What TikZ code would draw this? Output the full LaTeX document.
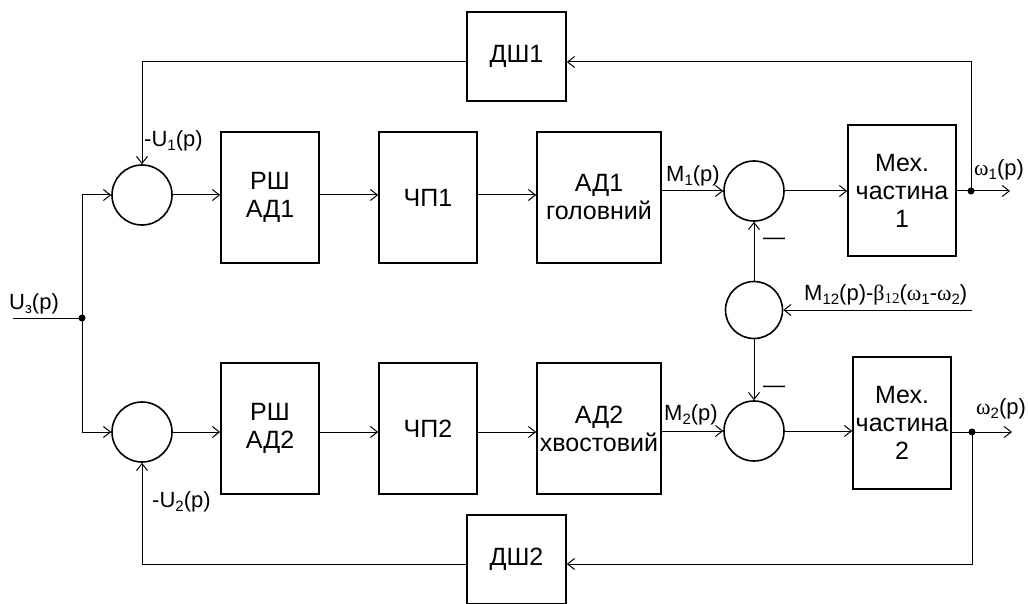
\documentclass[tikz,border=0pt]{standalone}
\usepackage{fontspec}
\setmainfont{Liberation Sans}
\newfontfamily\serf{Liberation Serif}
\usetikzlibrary{arrows.meta}
\newcommand{\lsub}[1]{\raisebox{-0.3ex}{\fontsize{15pt}{15pt}\selectfont #1}}
\begin{document}
\begin{tikzpicture}[x=1pt,y=-1pt,
  blk/.style={draw, line width=1.6pt, minimum width=98pt, minimum height=131pt, inner sep=0pt, align=center, font=\fontsize{25pt}{28pt}\selectfont},
  sum/.style={draw, circle, line width=1.6pt, minimum size=60pt, inner sep=0pt},
  con/.style={line width=1pt},
  arr/.style={con, -{Straight Barb[length=7pt,width=11pt,line width=1pt]}},
  lbl/.style={font=\fontsize{22pt}{24pt}\selectfont, inner sep=0pt},
  jdot/.style={circle, fill, minimum size=7pt, inner sep=0pt}
]
\useasboundingbox (0,0) rectangle (1028,604);
% feedback blocks
\node[blk, minimum width=99pt, minimum height=89pt] (ds1) at (516.5,56.5) {ДШ1};
\node[blk, minimum width=99pt, minimum height=89pt] (ds2) at (516.5,559.5) {ДШ2};
% summing junctions
\node[sum] (s1) at (142,195) {};
\node[sum] (s2) at (142,432) {};
\node[sum] (s3) at (754,191) {};
\node[sum, minimum size=57pt] (sm) at (754,310) {};
\node[sum] (s4) at (754,431) {};
% forward blocks
\node[blk] (rs1) at (270,197.5) {РШ\\АД1};
\node[blk] (cp1) at (428,197.5) {ЧП1};
\node[blk, minimum width=124pt] (ad1) at (599,197.5) {АД1\\головний};
\node[blk] (rs2) at (270,428.5) {РШ\\АД2};
\node[blk] (cp2) at (428,428.5) {ЧП2};
\node[blk, minimum width=124pt] (ad2) at (599,428.5) {АД2\\хвостовий};
\node[blk, minimum width=108pt] (me1) at (902,190.5) {Мех.\\частина\\1};
\node[blk, minimum width=98pt, minimum height=132pt] (me2) at (902,423) {Мех.\\частина\\2};
% junction points
\node[jdot] (d1) at (971,191) {};
\node[jdot] (d2) at (972,432) {};
\node[jdot] (jn) at (82,318) {};
\coordinate (o1) at (1010,191);
\coordinate (o2) at (1012,432);
\coordinate (uin) at (13,318);
\coordinate (min) at (972,310);
\coordinate (ytop) at (0,62);
\coordinate (ybot) at (0,564);
% top channel
\draw[arr] (s1.east) -- (rs1.west |- s1);
\draw[arr] (rs1.east |- s1) -- (cp1.west |- s1);
\draw[arr] (cp1.east |- s1) -- (ad1.west |- s1);
\draw[arr] (ad1.east |- s3) -- (s3.west);
\draw[arr] (s3.east) -- (me1.west |- s3);
\draw[con] (me1.east |- s3) -- (d1.center);
\draw[arr] (d1.center) -- (o1);
\draw[arr] (d1.center) -- (d1 |- ytop) -- (ds1.east |- ytop);
\draw[arr] (ds1.west |- ytop) -- (s1 |- ytop) -- (s1.north);
% bottom channel
\draw[arr] (s2.east) -- (rs2.west |- s2);
\draw[arr] (rs2.east |- s2) -- (cp2.west |- s2);
\draw[arr] (cp2.east |- s2) -- (ad2.west |- s2);
\draw[arr] (ad2.east |- s4) -- (s4.west);
\draw[arr] (s4.east) -- (me2.west |- s4);
\draw[con] (me2.east |- d2) -- (d2.center);
\draw[arr] (d2.center) -- (o2);
\draw[arr] (d2.center) -- (d2 |- ybot) -- (ds2.east |- ybot);
\draw[arr] (ds2.west |- ybot) -- (s2 |- ybot) -- (s2.south);
% input
\draw[con] (uin) -- (jn.center);
\draw[arr] (jn.center) |- (s1.west);
\draw[arr] (jn.center) |- (s2.west);
% load torque
\draw[arr] (min) -- (sm.east);
\draw[arr] (sm.north) -- (s3.south);
\draw[arr] (sm.south) -- (s4.north);
% labels
\node[lbl, anchor=west] at (144,141) {-U\lsub{1}(p)};
\node[lbl, anchor=west] at (9,304) {U\lsub{з}(p)};
\node[lbl, anchor=west] at (152,502) {-U\lsub{2}(p)};
\node[lbl, anchor=west] at (666,176) {M\lsub{1}(p)};
\node[lbl, anchor=west] at (664,415) {M\lsub{2}(p)};
\node[lbl, anchor=west] at (974,170) {{\serf ω}\lsub{1}(p)};
\node[lbl, anchor=west] at (976,409) {{\serf ω}\lsub{2}(p)};
\node[lbl, anchor=west] at (804,295) {M\lsub{12}(p)-{\serf β\lsub{12}}({\serf ω}\lsub{1}-{\serf ω}\lsub{2})};
\node[lbl] at (774,241) {—};
\node[lbl] at (774,389) {—};
\end{tikzpicture}
\end{document}
